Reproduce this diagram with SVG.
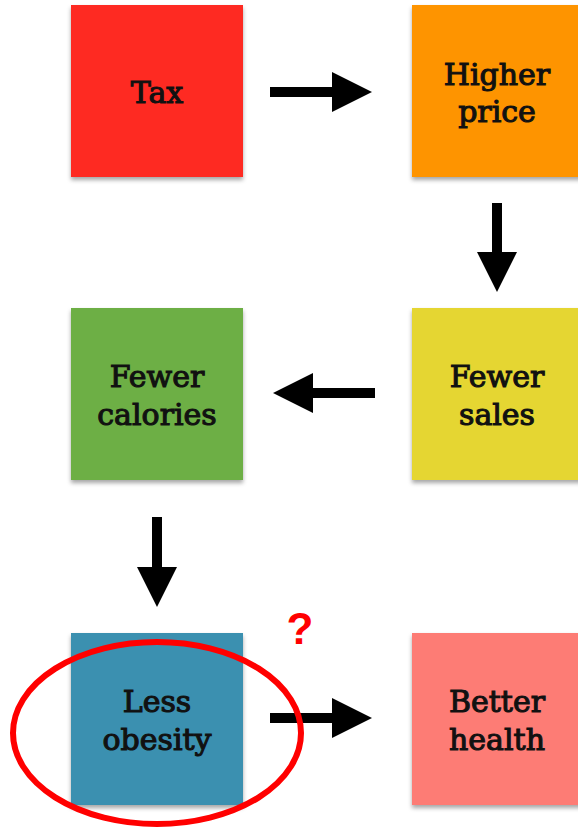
<svg xmlns="http://www.w3.org/2000/svg" width="578" height="827" viewBox="0 0 578 827">
<style>
.lbl{font-family:"DejaVu Serif","Liberation Serif",serif;font-size:30px;fill:#111;text-anchor:middle;stroke:#111;stroke-width:1.1}
.box{filter:url(#sh)}
.arr{stroke:#000;stroke-width:10;fill:none}
</style>
<defs>
<filter id="sh" x="-10%" y="-10%" width="120%" height="120%">
<feDropShadow dx="0" dy="3" stdDeviation="2" flood-color="#000" flood-opacity="0.35"/>
</filter>
<marker id="ah" viewBox="0 0 10 10" refX="1" refY="5" markerWidth="4" markerHeight="4.2" orient="auto" markerUnits="strokeWidth">
<path d="M0,0 L10,5 L0,10 Z" fill="#000"/>
</marker>
</defs>
<rect width="578" height="827" fill="#fff"/>
<g id="tax"><rect class="box" x="71" y="5" width="172" height="172" fill="#fe2c20"/><text class="lbl" x="157" y="103">Tax</text></g>
<g id="higher-price"><rect class="box" x="412" y="5" width="172" height="172" fill="#fe9400"/><text class="lbl" x="497" y="85">Higher</text><text class="lbl" x="497" y="122">price</text></g>
<g id="fewer-sales"><rect class="box" x="412" y="308" width="172" height="172" fill="#e5d630"/><text class="lbl" x="497" y="387">Fewer</text><text class="lbl" x="497" y="425">sales</text></g>
<g id="fewer-calories"><rect class="box" x="71" y="308" width="172" height="172" fill="#6daf45"/><text class="lbl" x="157" y="387">Fewer</text><text class="lbl" x="157" y="425">calories</text></g>
<g id="less-obesity"><rect class="box" x="71" y="633" width="172" height="172" fill="#3a90b0"/><text class="lbl" x="157" y="712">Less</text><text class="lbl" x="157" y="750">obesity</text></g>
<g id="better-health"><rect class="box" x="412" y="633" width="172" height="172" fill="#fd7b74"/><text class="lbl" x="497" y="712">Better</text><text class="lbl" x="497" y="750">health</text></g>
<g id="connectors">
<line class="arr" x1="270" y1="92" x2="336" y2="92" marker-end="url(#ah)"/>
<line class="arr" x1="497" y1="203" x2="497" y2="256" marker-end="url(#ah)"/>
<line class="arr" x1="375" y1="393" x2="309" y2="393" marker-end="url(#ah)"/>
<line class="arr" x1="157" y1="517" x2="157" y2="571" marker-end="url(#ah)"/>
<line class="arr" x1="270" y1="718" x2="336" y2="718" marker-end="url(#ah)"/>
</g>
<g id="annotation">
<ellipse cx="157" cy="733" rx="144" ry="91" fill="none" stroke="#f00" stroke-width="6"/>
<text x="300" y="644" font-family="Liberation Sans, Arial, sans-serif" font-weight="bold" font-size="44" fill="#f00" text-anchor="middle">?</text>
</g>
</svg>
